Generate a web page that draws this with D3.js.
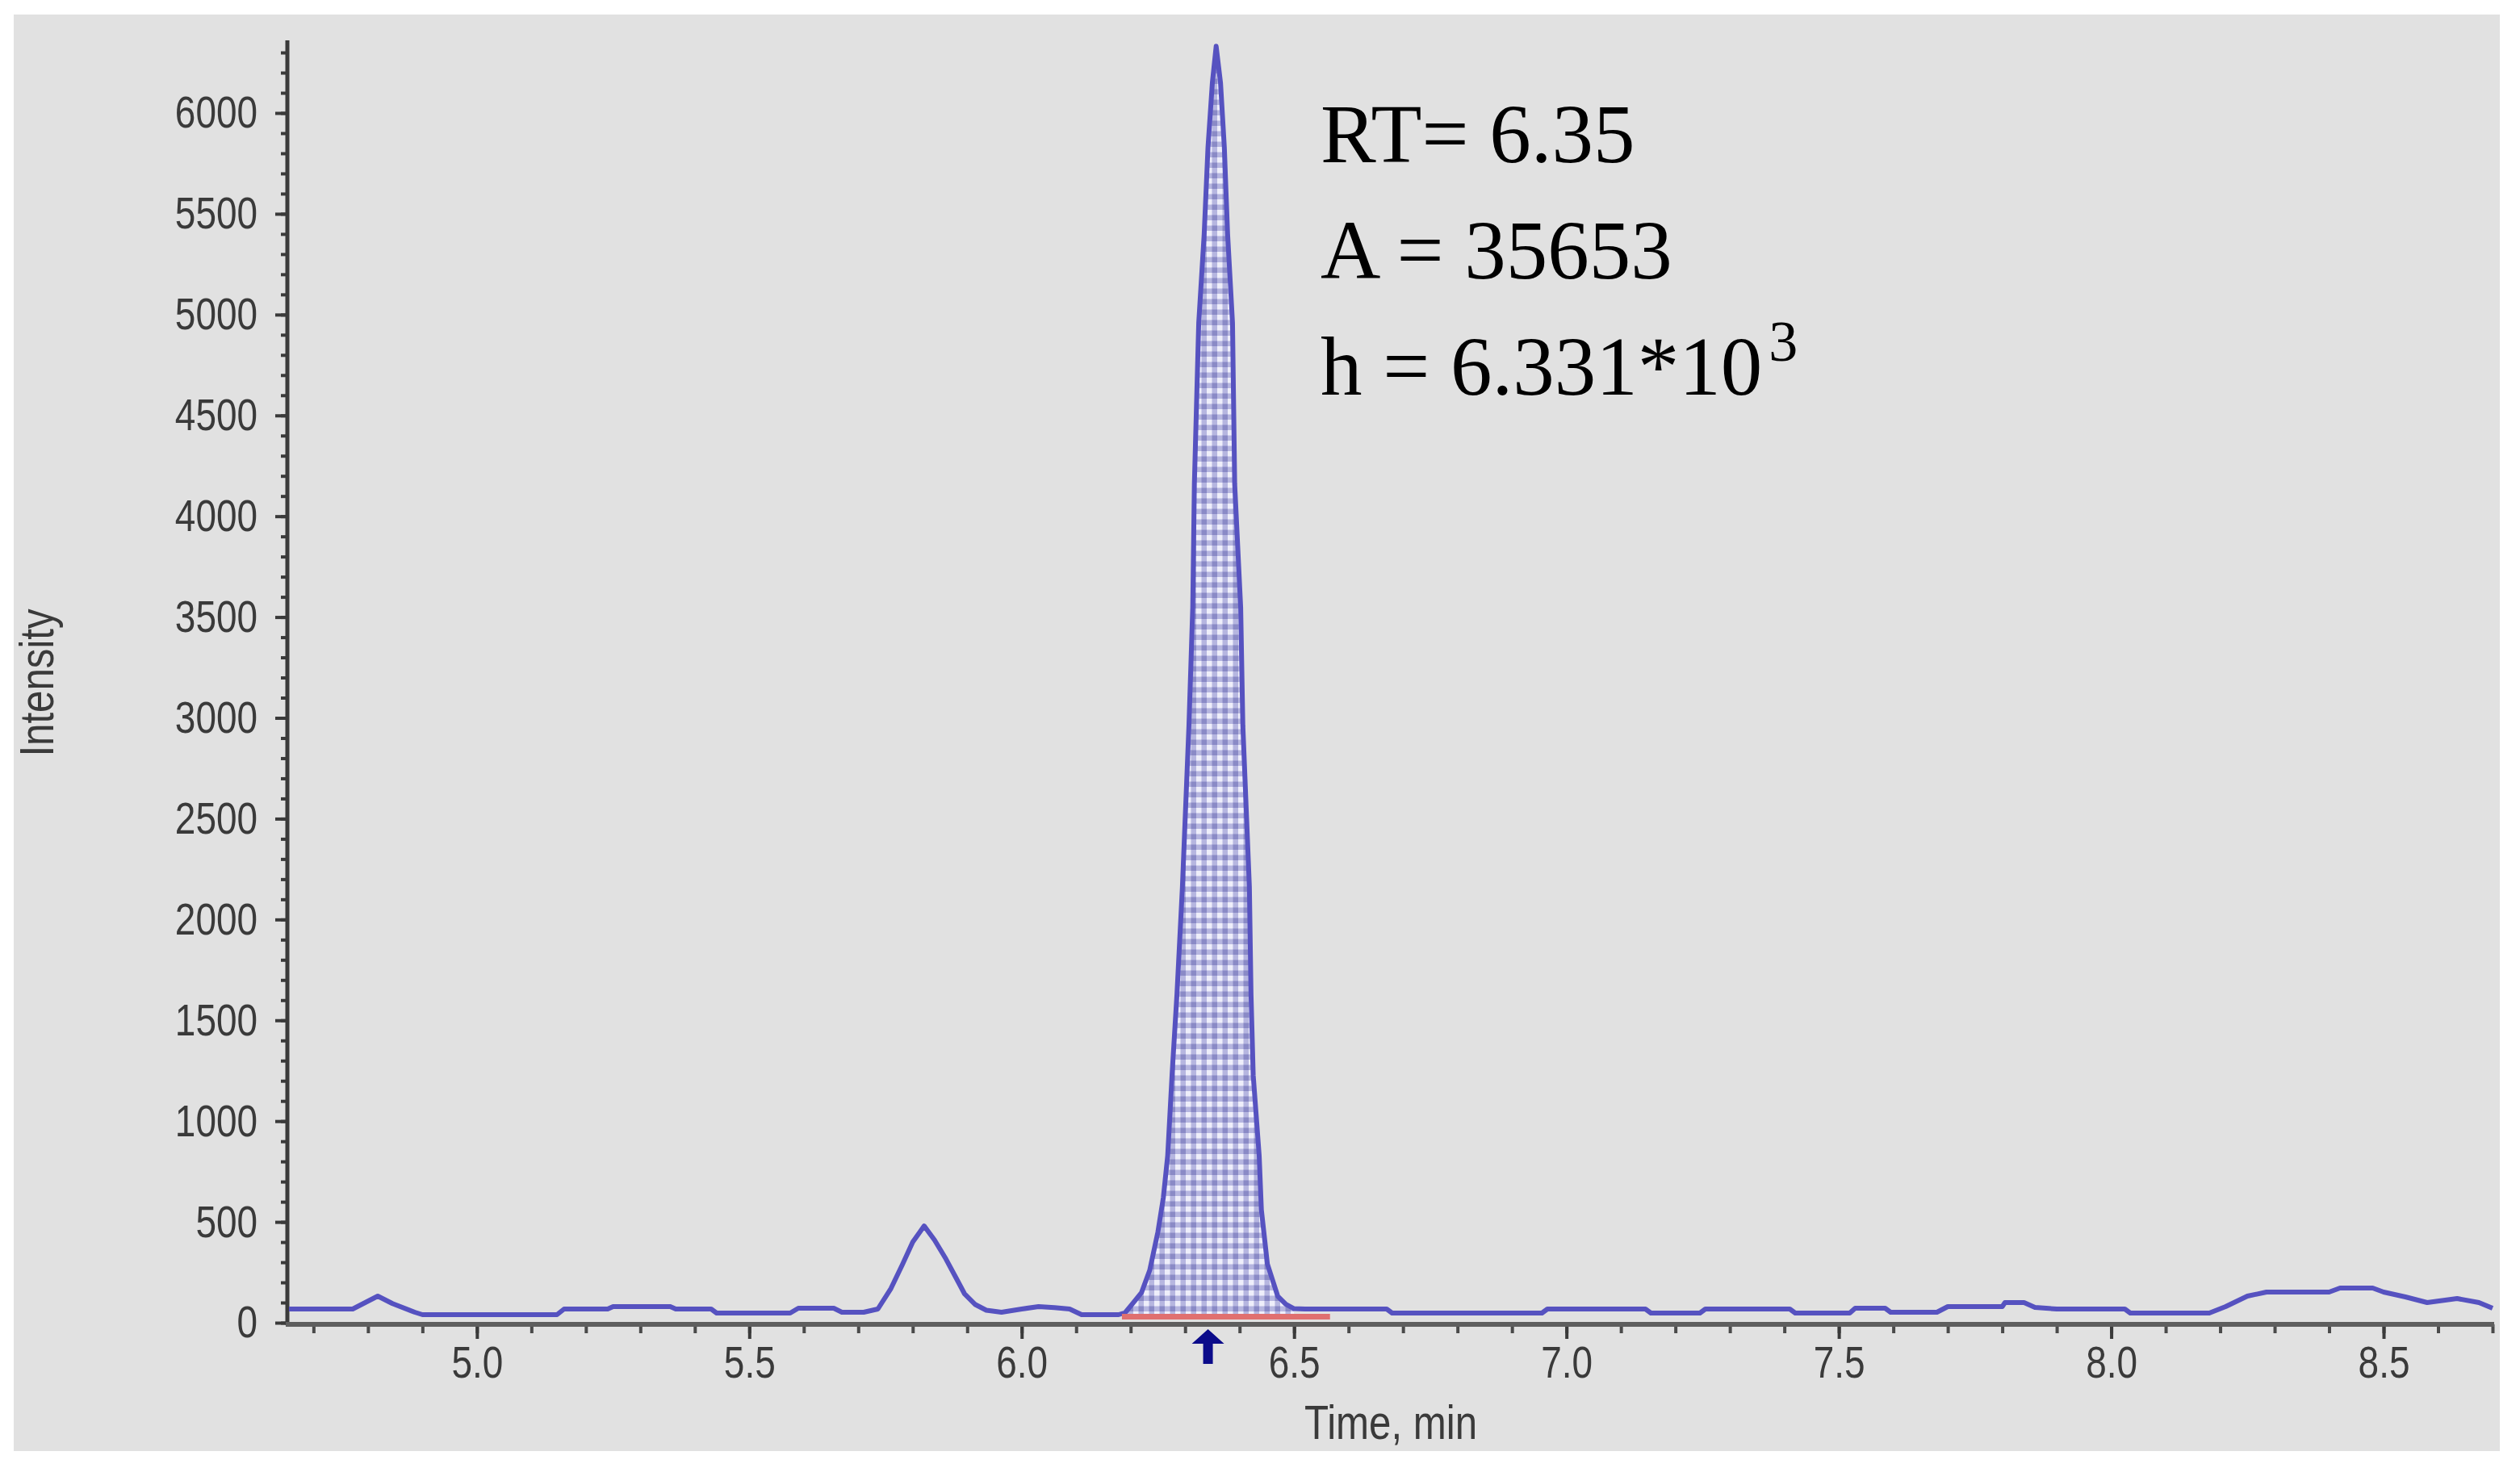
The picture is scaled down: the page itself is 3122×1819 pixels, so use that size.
<!DOCTYPE html>
<html>
<head>
<meta charset="utf-8">
<script src="https://cdn.jsdelivr.net/npm/d3@7"></script>
<style>
  html, body { margin: 0; padding: 0; background: #fff; }
  svg { display: block; }
  .narrow { font-family: "Liberation Sans", Arial, sans-serif; fill: #3a3a3a; }
</style>
</head>
<body>
<svg id="chart" width="3122" height="1819"></svg>
<script>
// ---- data ----
var times = [4.655, 4.700, 4.772, 4.795, 4.818, 4.845, 4.886, 4.900, 5.000, 5.147,
  5.160, 5.240, 5.250, 5.355, 5.365, 5.430, 5.440, 5.575, 5.590, 5.655,
  5.670, 5.710, 5.736, 5.760, 5.781, 5.800, 5.821, 5.840, 5.861, 5.880,
  5.895, 5.915, 5.935, 5.963, 6.000, 6.031, 6.060, 6.088, 6.110, 6.178,
  6.190, 6.205, 6.220, 6.235, 6.250, 6.260, 6.268, 6.276, 6.285, 6.295,
  6.307, 6.314, 6.317, 6.325, 6.335, 6.342, 6.350, 6.357, 6.365, 6.372,
  6.378, 6.387, 6.391, 6.402, 6.406, 6.418, 6.421, 6.425, 6.436, 6.440,
  6.451, 6.470, 6.485, 6.500, 6.520, 6.670, 6.680, 6.955, 6.965, 7.145,
  7.155, 7.245, 7.255, 7.410, 7.420, 7.520, 7.530, 7.585, 7.595, 7.680,
  7.700, 7.800, 7.805, 7.840, 7.860, 7.900, 8.025, 8.035, 8.180, 8.210,
  8.250, 8.285, 8.400, 8.420, 8.480, 8.500, 8.540, 8.580, 8.635, 8.675, 8.700];
var intensity = [68, 68, 68, 100, 132, 95, 52, 40, 40, 40,
  68, 68, 80, 80, 68, 68, 48, 48, 72, 72,
  52, 52, 68, 170, 288, 400, 480, 410, 316, 220,
  144, 90, 62, 52, 68, 80, 75, 68, 40, 40,
  50, 100, 150, 260, 450, 620, 828, 1228, 1628, 2160,
  2960, 3548, 4160, 4960, 5400, 5830, 6150, 6331, 6150, 5830,
  5400, 4960, 4160, 3548, 2960, 2160, 1628, 1228, 828, 560,
  292, 132, 92, 70, 68, 68, 48, 48, 68, 68,
  48, 48, 68, 68, 48, 48, 72, 72, 52, 52,
  80, 80, 100, 100, 76, 68, 68, 48, 48, 80,
  132, 152, 152, 172, 172, 152, 128, 100, 120, 100, 72];

// integrated peak: start/end of the red baseline, and the RT marker
var peakRange = [6.184, 6.566];
var baseLevel = [30, 30];
var markerTime = 6.342;

var xMajor = [5.0, 5.5, 6.0, 6.5, 7.0, 7.5, 8.0, 8.5];
var yMajor = [0, 500, 1000, 1500, 2000, 2500, 3000, 3500, 4000, 4500, 5000, 5500, 6000];

var notes = [
  {text: "RT= 6.35"},
  {text: "A = 35653"},
  {text: "h = 6.331*10", sup: "3"}
];

// ---- drawing ----
var svg = d3.select("#chart");

svg.append("rect")
  .attr("x", 17).attr("y", 18)
  .attr("width", 3080).attr("height", 1780)
  .attr("fill", "#e1e1e1");

var x = d3.scaleLinear().domain([4.655, 8.70]).range([358, 3088]);
var y = d3.scaleLinear().domain([0, 6000]).range([1639, 140]);
var yTop = 6360;

var data = times.map((t, i) => ({t: t, v: intensity[i]}));

// checkered hatch for the integrated area
var defs = svg.append("defs");
var pat = defs.append("pattern")
  .attr("id", "hatch")
  .attr("patternUnits", "userSpaceOnUse")
  .attr("width", 13).attr("height", 13);
pat.append("rect").attr("width", 13).attr("height", 13).attr("fill", "#b6b6e0");
pat.append("rect").attr("width", 6.5).attr("height", 6.5).attr("fill", "#eeeefa");
pat.append("rect").attr("x", 6.5).attr("y", 6.5).attr("width", 6.5).attr("height", 6.5).attr("fill", "#8a8ac6");

var base = d3.scaleLinear().domain(peakRange).range(baseLevel);
var peakData = data.filter(d => d.t >= peakRange[0] && d.t <= 6.50);

svg.append("path")
  .datum(peakData)
  .attr("fill", "url(#hatch)")
  .attr("d", d3.area()
    .x(d => x(d.t))
    .y0(d => y(base(d.t)))
    .y1(d => y(d.v)));

// y axis
var yAxisG = svg.append("g").attr("transform", "translate(356,0)");
yAxisG.append("g")
  .call(d3.axisLeft(y).tickValues(d3.range(0, 6301, 100)).tickSize(8).tickFormat(""))
  .call(g => g.select(".domain").remove())
  .selectAll("line").attr("stroke", "#3a3a3a").attr("stroke-width", 4);
yAxisG.append("g")
  .call(d3.axisLeft(y).tickValues(yMajor).tickSize(15).tickPadding(22).tickFormat(d3.format("d")))
  .call(g => g.select(".domain").remove())
  .call(g => g.selectAll("line").attr("stroke", "#3a3a3a").attr("stroke-width", 4))
  .call(g => g.selectAll("text").attr("class", "narrow").attr("fill", null).style("font-size", "56px"));
yAxisG.append("line")
  .attr("x1", 0).attr("x2", 0)
  .attr("y1", y(yTop)).attr("y2", y(0) + 3)
  .attr("stroke", "#3a3a3a").attr("stroke-width", 5);

// x axis
var xAxisG = svg.append("g").attr("transform", "translate(0,1641)");
xAxisG.append("g")
  .call(d3.axisBottom(x).tickValues(d3.range(47, 88).map(d => d / 10)).tickSize(11).tickFormat(""))
  .call(g => g.select(".domain").remove())
  .selectAll("line").attr("stroke", "#4a4a4a").attr("stroke-width", 4);
xAxisG.append("g")
  .call(d3.axisBottom(x).tickValues(xMajor).tickSize(18).tickPadding(8).tickFormat(d3.format(".1f")))
  .call(g => g.select(".domain").remove())
  .call(g => g.selectAll("line").attr("stroke", "#3a3a3a").attr("stroke-width", 4))
  .call(g => g.selectAll("text").attr("class", "narrow").attr("fill", null).style("font-size", "56px"));
xAxisG.append("line")
  .attr("x1", 354).attr("x2", 3090)
  .attr("y1", 0).attr("y2", 0)
  .attr("stroke", "#5e5e5e").attr("stroke-width", 6);

// trace
svg.append("path")
  .datum(data)
  .attr("fill", "none")
  .attr("stroke", "#5652c0")
  .attr("stroke-width", 6)
  .attr("stroke-linejoin", "round")
  .attr("d", d3.line().x(d => x(d.t)).y(d => y(d.v)));

// integration baseline
svg.append("line")
  .attr("x1", x(peakRange[0])).attr("x2", x(peakRange[1]))
  .attr("y1", y(baseLevel[0])).attr("y2", y(baseLevel[1]))
  .attr("stroke", "#e07070").attr("stroke-width", 7);

// RT marker arrow below the axis
var ax = x(markerTime);
svg.append("path")
  .attr("fill", "#0b0b8a")
  .attr("d", "M" + ax + ",1647 L" + (ax + 20) + ",1665 L" + (ax + 6) + ",1665 L" + (ax + 6) + ",1690 L" +
    (ax - 6) + ",1690 L" + (ax - 6) + ",1665 L" + (ax - 20) + ",1665 Z");

// axis titles
svg.append("text")
  .attr("class", "narrow")
  .attr("x", (x.range()[0] + x.range()[1]) / 2).attr("y", 1783)
  .attr("text-anchor", "middle")
  .style("font-size", "60px")
  .text("Time, min");

svg.append("text")
  .attr("class", "narrow")
  .attr("transform", "translate(66,846) rotate(-90)")
  .attr("text-anchor", "middle")
  .style("font-size", "60px")
  .text("Intensity");

// the original labels use a condensed face; squeeze the sans text to match
svg.selectAll("text.narrow").each(function() {
  var w = this.getComputedTextLength();
  d3.select(this).attr("textLength", w * 0.82).attr("lengthAdjust", "spacingAndGlyphs");
});

// peak annotation
var noteG = svg.append("g")
  .style("font-family", "'Liberation Serif', 'Times New Roman', serif")
  .style("font-size", "103px")
  .attr("fill", "#000");
notes.forEach(function(n, i) {
  var t = noteG.append("text").attr("x", 1636).attr("y", 201 + i * 144);
  t.append("tspan").text(n.text);
  if (n.sup) {
    t.append("tspan").attr("dx", 8).attr("dy", -42).style("font-size", "72px").text(n.sup);
  }
});
</script>
</body>
</html>
